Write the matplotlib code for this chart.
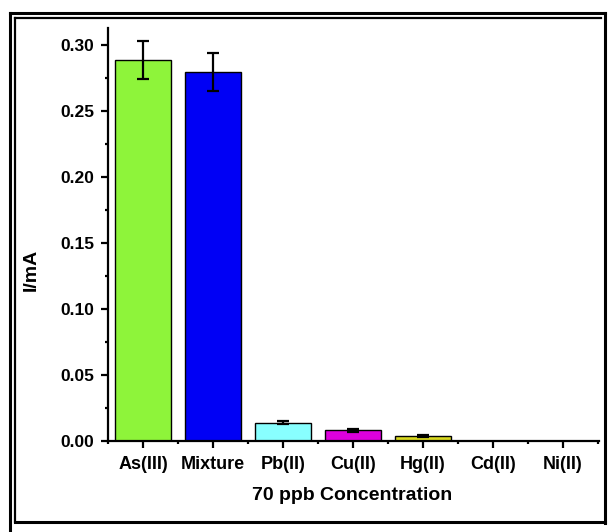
import matplotlib
matplotlib.use("Agg")
import matplotlib.pyplot as plt
from matplotlib.lines import Line2D
from matplotlib.ticker import MultipleLocator, FixedLocator

# current response of each ion at 70 ppb
ions = ["As(III)", "Mixture", "Pb(II)", "Cu(II)", "Hg(II)", "Cd(II)", "Ni(II)"]
current = [0.289, 0.2795, 0.014, 0.008, 0.004, 0.0, 0.0]
error = [0.0145, 0.0145, 0.0010, 0.0010, 0.0008, 0.0, 0.0]
colors = ["#8ef43a", "#0000f5", "#88ffff", "#dd00dd", "#d8d820", "#ffffff", "#ffffff"]

W, H = 608, 532
plt.rcParams["font.family"] = ["Liberation Sans", "DejaVu Sans"]
plt.rcParams["font.weight"] = "bold"

fig = plt.figure(figsize=(W / 100, H / 100), dpi=100)
fig.patch.set_facecolor("white")


def px(x0, y0, x1, y1, lw, color="black"):
    # line in pixel coordinates (origin top-left)
    fig.add_artist(Line2D([x0 / W, x1 / W], [1 - y0 / H, 1 - y1 / H],
                          transform=fig.transFigure, color=color, lw=lw,
                          solid_capstyle="projecting"))


# double frame round the figure
px(10, 13, 604.5, 13, 2.2)
px(10, 13, 10, 532, 2.2)
px(604.5, 13, 604.5, 523, 2.2)
px(15, 18, 601, 18, 1.6)
px(15, 18, 15, 521.5, 1.6)
px(15, 521.5, 604.5, 521.5, 2.2)

ax = fig.add_axes([108 / W, 1 - 441 / H, 491 / W, 413 / H])
ax.set_facecolor("none")

x = list(range(len(ions)))
ax.bar(x, current, width=0.8, color=colors, edgecolor="black", linewidth=1.0,
       zorder=2)
ax.errorbar(x[:5], current[:5], yerr=error[:5], fmt="none", ecolor="black",
            elinewidth=1.6, capsize=4.5, capthick=1.6, zorder=3)

ax.set_xlim(-0.5, 6.52)
ax.set_ylim(0, 0.313)

for side in ("top", "right"):
    ax.spines[side].set_visible(False)
for side in ("left", "bottom"):
    ax.spines[side].set_linewidth(1.6)

ax.yaxis.set_minor_locator(MultipleLocator(0.025))
ax.set_yticks([0, 0.05, 0.10, 0.15, 0.20, 0.25, 0.30])
ax.set_yticklabels(["0.00", "0.05", "0.10", "0.15", "0.20", "0.25", "0.30"],
                   fontsize=12.5, fontweight="bold")
ax.set_xticks(x)
ax.set_xticklabels(ions, fontsize=13, fontweight="bold")
ax.xaxis.set_minor_locator(FixedLocator([i + 0.5 for i in range(-1, 7)]))

ax.tick_params(which="major", direction="out", length=5, width=1.6)
ax.tick_params(which="minor", direction="out", length=2.5, width=1.6)
ax.tick_params(axis="y", which="major", pad=5)
ax.tick_params(axis="x", which="major", pad=6)

ax.set_ylabel("I/mA", fontsize=14, fontweight="bold")
ax.yaxis.set_label_coords(-0.138, 0.415)
ax.set_xlabel("70 ppb Concentration", fontsize=14, fontweight="bold")
ax.xaxis.set_label_coords(0.497, -0.112)

fig.savefig("out.png", dpi=100, facecolor="white")
